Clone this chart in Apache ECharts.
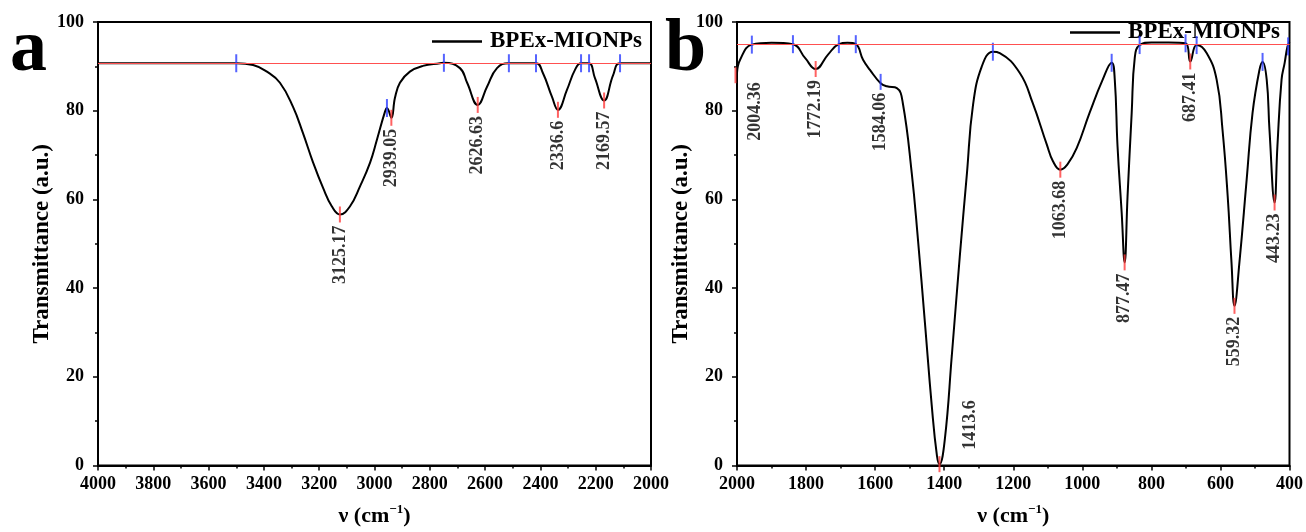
<!DOCTYPE html>
<html>
<head>
<meta charset="utf-8">
<title>FTIR BPEx-MIONPs</title>
<script src="https://cdn.jsdelivr.net/npm/echarts@6/dist/echarts.min.js"></script>
<style>
  html, body { margin: 0; padding: 0; background: #fff; }
  #chart { width: 1306px; height: 532px; }
</style>
</head>
<body>
<div id="chart"></div>
<script>
  // panel a, 4000 - 2000 cm-1  [wavenumber, transmittance]
  var curveA = [
    [4000, 90.7], [3800, 90.7], [3600, 90.7], [3500, 90.7], [3439, 90.3], [3389, 88.8],
    [3342, 86.3], [3295, 80.9], [3259, 75.0], [3222, 68.3], [3186, 62.6], [3154, 58.4],
    [3125.17, 56.6], [3089, 58.4], [3052, 63.0], [3016, 68.3], [2991, 73.5], [2962, 79.8],
    [2955, 80.6], [2939.05, 78.4], [2926, 82.9], [2908, 86.3], [2872, 88.8], [2825, 90.1],
    [2763, 90.7], [2749, 90.8], [2691, 89.6], [2665, 86.3], [2626.63, 81.3], [2593, 85.4],
    [2557, 89.6], [2514, 90.7], [2416, 90.7], [2391, 88.5], [2358, 83.1], [2336.6, 80.2],
    [2304, 84.7], [2275, 89.2], [2253, 90.7], [2224, 90.7], [2203, 87.4], [2169.57, 82.3],
    [2137, 88.0], [2112, 90.7], [2000, 90.7]
  ];
  var baseA = 90.7;
  var peaksA = [[3125.17, 56.6], [2939.05, 78.4], [2626.63, 81.3], [2336.6, 80.2], [2169.57, 82.3]];
  var blueA = [[3500, 90.7], [2955, 80.6], [2749, 90.8], [2514, 90.7], [2416, 90.7],
               [2253, 90.7], [2224, 90.7], [2112, 90.7]];

  // panel b, 2000 - 400 cm-1
  var curveB = [
    [2000, 88.5], [1991, 91.5], [1957, 94.9], [1900, 95.3], [1838, 95.0], [1803, 91.9],
    [1772.19, 89.4], [1737, 92.6], [1705, 95.0], [1680, 95.3], [1656, 95.0], [1635, 91.5],
    [1615, 89.2], [1584.06, 86.2], [1566, 85.5], [1537, 85.1], [1520, 81.8], [1494, 66],
    [1476, 51], [1456, 32.4], [1436, 13.5], [1421, 2.2], [1413.6, 0.3], [1398, 6],
    [1378, 24.7], [1355, 47], [1334, 66], [1317, 81], [1291, 90], [1259, 93.3],
    [1239, 93.0], [1181, 88.5], [1144, 81.8], [1103, 72.4], [1085, 68.6], [1063.68, 66.7],
    [1043, 67.9], [1016, 71.6], [979, 79.5], [941, 87], [915, 90.8], [906, 87], [898, 72],
    [886, 57], [877.47, 45.8], [869, 60.7], [857, 79.5], [848, 92], [834, 94.8], [800, 95.4],
    [750, 95.4], [701, 95.2], [687.41, 91.1], [669, 94.8], [640, 93], [611, 87],
    [594, 75.7], [579, 60.7], [568, 45.8], [559.32, 36], [545, 45.8], [524, 64.5],
    [507, 79.5], [487, 89.2], [478, 91], [466, 87], [458, 75.7], [443.23, 59.3],
    [435, 72], [423, 87], [414, 90.8], [406, 94.4], [400, 95.5]
  ];
  var baseB = 95;
  var peaksB = [[2004.36, 88.0], [1772.19, 89.4], [1584.06, 86.5], [1413.6, 0.3], [1063.68, 66.7],
                [877.47, 45.8], [687.41, 91.1], [559.32, 36], [443.23, 59.3]];
  var blueB = [[1957, 94.9], [1838, 95.0], [1705, 95.0], [1656, 95.0], [1259, 93.3], [915, 90.8],
               [834, 94.8], [701, 95.2], [669, 94.8], [478, 91], [404, 94.5]];

  var seriesName = 'BPEx-MIONPs';
  var xRangeA = [2000, 4000];
  var xRangeB = [400, 2000];
  var yRange = [0, 100];

  var font = "'Liberation Serif', 'Times New Roman', serif";
  var red = '#ff3b3b';
  var blue = '#2b3cff';

  // label tweaks for the two labels that sit beside their peaks
  var labelOffsets = { '2004.36': [4, 20], '1413.6': [75, 31] };
  var bluePeaks = ['1584.06'];

  function xAxisFor(idx, range) {
    return {
      type: 'value', gridIndex: idx, inverse: true,
      min: range[0], max: range[1], interval: 200,
      name: '{t|ν (cm}{s|−1}{t|)}', nameLocation: 'middle', nameGap: 38,
      nameTextStyle: {
        rich: {
          t: { fontFamily: font, fontWeight: 'bold', fontSize: 22, color: '#000' },
          s: { fontFamily: font, fontWeight: 'bold', fontSize: 13, color: '#000', padding: [0, 0, 12, 0] }
        }
      },
      axisLine: { show: true, onZero: false, lineStyle: { color: '#000', width: 2 } },
      axisTick: { show: true, length: 5, lineStyle: { color: '#000', width: 1.5 } },
      minorTick: { show: true, splitNumber: 2, length: 3, lineStyle: { color: '#000', width: 1.5 } },
      axisLabel: {
        color: '#000', fontFamily: font, fontWeight: 'bold', fontSize: 18, margin: 10,
        formatter: function (v) { return String(v); }
      },
      splitLine: { show: false }
    };
  }

  function yAxisFor(idx) {
    return {
      type: 'value', gridIndex: idx, min: yRange[0], max: yRange[1], interval: 20,
      name: 'Transmittance (a.u.)', nameLocation: 'middle', nameGap: 44,
      nameTextStyle: { fontFamily: font, fontWeight: 'bold', fontSize: 23, color: '#000' },
      axisLine: { show: true, onZero: false, lineStyle: { color: '#000', width: 2 } },
      axisTick: { show: true, length: 5, lineStyle: { color: '#000', width: 1.5 } },
      minorTick: { show: true, splitNumber: 2, length: 3, lineStyle: { color: '#000', width: 1.5 } },
      axisLabel: { color: '#000', fontFamily: font, fontWeight: 'bold', fontSize: 18, margin: 14 },
      splitLine: { show: false }
    };
  }

  function curveSeries(idx, data, base) {
    return {
      name: seriesName, type: 'line', xAxisIndex: idx, yAxisIndex: idx,
      data: data, smooth: 0.45, symbol: 'none',
      color: '#000', lineStyle: { color: '#000', width: 2 }, z: 3,
      markLine: {
        silent: true, symbol: 'none', label: { show: false },
        lineStyle: { color: '#ff5050', width: 1.2, type: 'solid' },
        data: [{ yAxis: base }]
      }
    };
  }

  function blueSeries(idx, data) {
    return {
      type: 'scatter', xAxisIndex: idx, yAxisIndex: idx, data: data,
      symbol: 'rect', symbolSize: [2, 18], itemStyle: { color: blue }, z: 4, silent: true
    };
  }

  function peakSeries(idx, data) {
    return {
      type: 'scatter', xAxisIndex: idx, yAxisIndex: idx, clip: false, silent: true,
      symbol: 'rect', symbolSize: [2, 16], z: 4,
      itemStyle: { color: red },
      data: data.map(function (p) {
        var key = String(p[0]);
        var item = { value: p };
        if (bluePeaks.indexOf(key) >= 0) item.itemStyle = { color: blue };
        if (labelOffsets[key]) item.label = { offset: labelOffsets[key] };
        return item;
      }),
      label: {
        show: true, position: 'bottom', distance: 3, rotate: 90,
        align: 'right', verticalAlign: 'middle',
        fontFamily: font, fontWeight: 'bold', fontSize: 18, color: '#000',
        formatter: function (p) { return String(p.value[0]); }
      }
    };
  }

  function legendFor(left, top) {
    return {
      left: left, top: top, padding: 0, itemWidth: 50, itemHeight: 2.5, itemGap: 0,
      icon: 'rect', selectedMode: false, data: [seriesName],
      textStyle: { fontFamily: font, fontWeight: 'bold', fontSize: 23, color: '#000', padding: [0, 0, 0, 3] }
    };
  }

  var chart = echarts.init(document.getElementById('chart'));
  chart.setOption({
    animation: false,
    backgroundColor: '#fff',
    grid: [
      { left: 98, right: 655, top: 22, bottom: 65, show: true, borderColor: '#000', borderWidth: 2 },
      { left: 737, right: 16, top: 22, bottom: 65, show: true, borderColor: '#000', borderWidth: 2 }
    ],
    legend: [legendFor(432, 30), legendFor(1070, 21)],
    xAxis: [xAxisFor(0, xRangeA), xAxisFor(1, xRangeB)],
    yAxis: [yAxisFor(0), yAxisFor(1)],
    graphic: [
      { type: 'text', left: 10, top: 14, style: { text: 'a', font: 'bold 74px ' + font, fill: '#000' } },
      { type: 'text', left: 665, top: 14, style: { text: 'b', font: 'bold 74px ' + font, fill: '#000' } }
    ],
    series: [
      curveSeries(0, curveA, baseA), blueSeries(0, blueA), peakSeries(0, peaksA),
      curveSeries(1, curveB, baseB), blueSeries(1, blueB), peakSeries(1, peaksB)
    ]
  });
</script>
</body>
</html>
